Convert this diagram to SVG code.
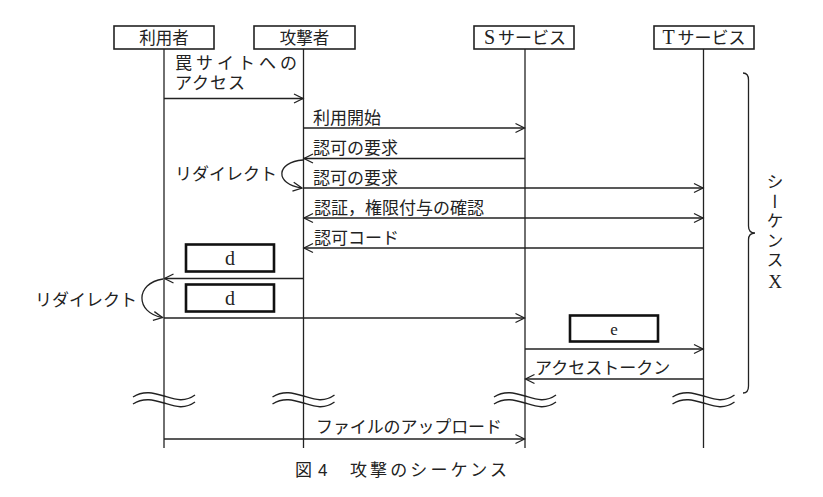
<svg xmlns="http://www.w3.org/2000/svg" width="823" height="497" viewBox="0 0 823 497">
<defs>
<style>
text{font-family:"Liberation Serif","Noto Sans CJK JP",serif;fill:#222;font-size:17px}
.jp{font-family:"Noto Sans CJK JP","Liberation Sans",sans-serif;font-size:17px}
.lat{font-family:"Liberation Serif",serif;font-size:20px}
.hd{font-size:16.5px;text-anchor:middle}
.c{text-anchor:middle}
.box{fill:#fff;stroke:#222;stroke-width:1.6}
.bold{fill:#fff;stroke:#111;stroke-width:2.6}
.life{stroke:#222;stroke-width:1.3;fill:none}
.msg{stroke:#222;stroke-width:1.3;fill:none;marker-end:url(#ah)}
.dbl{stroke:#222;stroke-width:1.3;fill:none;marker-end:url(#ah);marker-start:url(#ah)}
.line{stroke:#222;stroke-width:1.3;fill:none}
.wave{stroke:#222;stroke-width:1.4;fill:none}
.vert{font-family:"Noto Sans CJK JP",sans-serif;font-size:17px;writing-mode:vertical-rl;text-orientation:upright;letter-spacing:2.6px}
</style>
<marker id="ah" markerWidth="12" markerHeight="12" refX="10" refY="6" orient="auto-start-reverse" markerUnits="userSpaceOnUse">
<path d="M1,1.5 L10,6 L1,10.5" fill="none" stroke="#222" stroke-width="1.3"/>
</marker>
</defs>
<rect width="823" height="497" fill="#fff"/>

<g id="lifelines">
<line class="life" x1="164" y1="49" x2="164" y2="448"/>
<line class="life" x1="303.5" y1="49" x2="303.5" y2="448"/>
<line class="life" x1="525" y1="49" x2="525" y2="448"/>
<line class="life" x1="703.5" y1="49" x2="703.5" y2="448"/>
</g>

<g id="user">
<rect class="box" x="114" y="26" width="100" height="23"/>
<text class="hd jp" x="164" y="43.5">利用者</text>
</g>
<g id="attacker">
<rect class="box" x="254" y="26" width="101" height="23"/>
<text class="hd jp" x="304.5" y="43.5">攻撃者</text>
</g>
<g id="s-service">
<rect class="box" x="474" y="26" width="100" height="23"/>
<text class="hd" x="525" y="44"><tspan class="lat" font-size="18.5">S</tspan><tspan class="jp" font-size="16.5" dx="3">サービス</tspan></text>
</g>
<g id="t-service">
<rect class="box" x="654" y="26" width="100" height="23"/>
<text class="hd" x="704" y="44"><tspan class="lat" font-size="18.5">T</tspan><tspan class="jp" font-size="16.5" dx="3">サービス</tspan></text>
</g>

<g id="connectors">
<line class="msg" x1="164" y1="98.5" x2="303" y2="98.5"/>
<line class="msg" x1="303.5" y1="128" x2="524.5" y2="128"/>
<line class="msg" x1="525" y1="158.5" x2="304" y2="158.5"/>
<path class="msg" d="M303,160 C276,162 274,184 302,188"/>
<line class="msg" x1="303.5" y1="188" x2="703" y2="188"/>
<line class="dbl" x1="304" y1="218" x2="703" y2="218"/>
<line class="msg" x1="703.5" y1="248" x2="304" y2="248"/>
<line class="msg" x1="303.5" y1="278.5" x2="164.5" y2="278.5"/>
<path class="msg" d="M163,279 C135,283 135,313 162.5,317.5"/>
<line class="msg" x1="164" y1="318" x2="524.5" y2="318"/>
<line class="msg" x1="525" y1="349" x2="703" y2="349"/>
<line class="msg" x1="703.5" y1="379" x2="525.5" y2="379"/>
<line class="msg" x1="164" y1="439" x2="524.5" y2="439"/>
</g>

<g id="labels">
<text class="jp" x="175" y="69" font-size="16" textLength="122" lengthAdjust="spacing">罠サイトへの</text>
<text class="jp" x="175" y="89" font-size="16" textLength="70" lengthAdjust="spacing">アクセス</text>
<text class="jp" x="313" y="124">利用開始</text>
<text class="jp" x="313" y="154">認可の要求</text>
<text class="jp" x="175" y="179.5">リダイレクト</text>
<text class="jp" x="313" y="184">認可の要求</text>
<text class="jp" x="314" y="214">認証，権限付与の確認</text>
<text class="jp" x="314" y="244">認可コード</text>
<text class="jp" x="35" y="306">リダイレクト</text>
<text class="jp" x="535" y="374">アクセストークン</text>
<text class="jp" x="316" y="433" textLength="186" lengthAdjust="spacing">ファイルのアップロード</text>
</g>

<g id="box-d1">
<rect class="bold" x="186" y="244.5" width="88" height="27"/>
<text class="c lat" x="230" y="264.5">d</text>
</g>
<g id="box-d2">
<rect class="bold" x="186" y="284.5" width="88" height="27"/>
<text class="c lat" x="230" y="304.5">d</text>
</g>
<g id="box-e">
<rect class="bold" x="570" y="315.5" width="88" height="26"/>
<text class="c" x="614" y="335" font-family="Liberation Sans, sans-serif" font-size="20">e</text>
</g>

<g id="breaks">
<path class="wave" d="M133,397 C144,390 154,393 164,396 S184,403 195,395"/>
<path class="wave" d="M133,404 C144,397 154,400 164,403 S184,410 195,402"/>
<path class="wave" d="M272.5,397 C283.5,390 293.5,393 303.5,396 S323.5,403 334.5,395"/>
<path class="wave" d="M272.5,404 C283.5,397 293.5,400 303.5,403 S323.5,410 334.5,402"/>
<path class="wave" d="M494,397 C505,390 515,393 525,396 S545,403 556,395"/>
<path class="wave" d="M494,404 C505,397 515,400 525,403 S545,410 556,402"/>
<path class="wave" d="M672.5,397 C683.5,390 693.5,393 703.5,396 S723.5,403 734.5,395"/>
<path class="wave" d="M672.5,404 C683.5,397 693.5,400 703.5,403 S723.5,410 734.5,402"/>
</g>

<g id="sequence-x">
<path class="line" d="M743,73 Q748.5,73 748.5,80 L748.5,226 Q748.5,233 755,233 Q748.5,233 748.5,240 L748.5,386 Q748.5,393 743,393"/>
<text class="vert" x="775" y="173">シーケンス<tspan font-family="Liberation Serif, serif" font-size="19">X</tspan></text>
</g>

<g id="caption">
<text class="jp" x="295" y="476" font-size="17.5"><tspan>図</tspan><tspan font-family="Liberation Sans, sans-serif" dx="6">4</tspan><tspan x="350" textLength="157" lengthAdjust="spacing">攻撃のシーケンス</tspan></text>
</g>
</svg>
